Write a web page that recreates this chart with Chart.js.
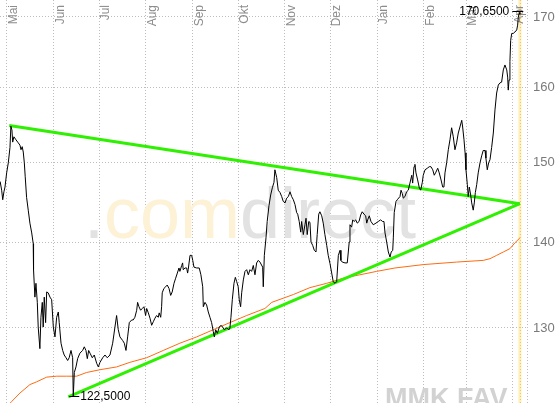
<!DOCTYPE html>
<html>
<head>
<meta charset="utf-8">
<script src="https://cdn.jsdelivr.net/npm/chart.js@4.4.1/dist/chart.umd.min.js"></script>
<style>
html, body { margin: 0; padding: 0; background: #fff; }
#wrap { width: 560px; height: 403px; }
</style>
</head>
<body>
<div id="wrap"><canvas id="chart" width="560" height="403"></canvas></div>
<script>
// x values are days counted from 1 May
const monthLabels = ["Mai", "Jun", "Jul", "Aug", "Sep", "Okt", "Nov", "Dez", "Jan", "Feb", "Mär", "Apr"];
const monthDays = [0, 31, 61, 92, 123, 153, 184, 214, 245, 276, 304, 335];
const yTicks = [130, 140, 150, 160, 170];

const priceDays = [
    -4.5, -3.5, -2.8, -2.0, -1.3, -0.2, 0.9, 2.0, 2.6, 3.3, 3.8, 4.6, 6.0, 7.5, 8.6, 9.3, 10.1, 10.8, 11.5, 12.1,
    13.0, 14.1, 15.2, 16.4, 17.4, 17.6, 18.5, 19.2, 20.1, 20.7, 21.8, 22.5, 23.4, 24.0, 24.7, 25.6, 26.3, 27.3, 28.5, 29.6,
    30.7, 31.8, 32.9, 34.0, 34.6, 35.8, 36.9, 37.9, 39.1, 40.2, 41.2, 42.4, 43.5, 43.9, 44.6, 45.7, 46.8, 48.3, 50.1, 51.2,
    52.3, 53.2, 54.1, 55.0, 56.5, 57.8, 59.4, 60.5, 61.6, 63.4, 64.9, 66.4, 68.2, 70.0, 71.5, 72.6, 73.7, 74.8, 76.6, 77.7,
    78.8, 79.9, 81.0, 82.6, 83.6, 84.7, 85.9, 86.5, 87.4, 88.5, 89.6, 90.7, 91.8, 92.5, 93.6, 94.7, 95.8, 96.9, 98.0, 99.1,
    100.2, 100.8, 101.8, 102.4, 102.8, 103.9, 105.1, 106.1, 107.3, 108.4, 109.4, 110.6, 111.7, 112.8, 113.9, 114.5, 115.7, 116.3, 116.7, 117.9,
    119.0, 119.6, 120.0, 121.2, 122.3, 123.0, 123.8, 125.6, 127.3, 128.4, 129.6, 130.0, 131.1, 132.2, 133.3, 134.4, 135.5, 136.6, 137.3, 138.2,
    139.3, 140.6, 141.7, 142.8, 143.9, 145.5, 147.0, 147.6, 148.3, 149.2, 150.3, 151.2, 152.1, 153.1, 153.8, 154.7, 155.4, 156.5, 157.6, 158.7,
    159.8, 160.9, 162.0, 163.1, 164.2, 165.3, 166.4, 167.5, 169.3, 169.7, 170.4, 171.5, 172.3, 173.5, 174.6, 175.7, 176.8, 177.4, 178.6, 179.6,
    180.8, 181.9, 182.9, 184.1, 185.2, 186.3, 187.4, 188.5, 189.6, 190.7, 191.8, 192.5, 193.5, 194.5, 195.1, 196.2, 197.3, 198.0, 198.8, 199.8,
    200.6, 201.3, 202.4, 203.5, 204.6, 205.4, 206.4, 207.2, 208.4, 209.4, 210.5, 211.7, 212.7, 213.9, 215.0, 216.0, 217.2, 218.3, 219.4, 220.5,
    221.1, 222.0, 223.8, 225.3, 226.0, 226.6, 227.1, 228.2, 228.9, 229.8, 230.9, 231.9, 233.1, 234.2, 235.2, 236.4, 237.5, 238.2, 238.8, 239.9,
    241.0, 242.5, 244.3, 245.8, 247.4, 248.7, 249.6, 250.3, 251.4, 252.5, 253.6, 254.4, 255.4, 255.8, 256.4, 257.6, 258.4, 260.2, 260.9, 261.7,
    262.4, 263.5, 264.6, 265.7, 266.8, 268.0, 268.6, 269.5, 270.1, 270.8, 271.9, 273.0, 273.9, 275.0, 275.6, 276.8, 278.3, 279.6, 280.7, 281.9,
    282.9, 284.0, 285.2, 286.2, 287.4, 288.5, 289.3, 290.0, 291.1, 292.2, 293.3, 294.4, 295.5, 296.6, 297.7, 298.8, 299.9, 301.1, 301.7, 302.6,
    303.3, 303.9, 304.8, 305.4, 306.1, 307.0, 307.7, 308.7, 309.4, 310.1, 311.0, 312.0, 313.2, 314.3, 315.3, 316.5, 317.1, 318.0, 318.9, 319.8,
    320.9, 322.0, 323.1, 324.2, 325.3, 326.4, 327.5, 328.6, 329.7, 330.9, 331.5, 331.9, 332.4, 333.0, 333.5, 334.2, 335.2, 336.3, 337.5, 338.1,
    338.5, 339.2, 339.6
];
const priceValues = [
    147.5, 146.4, 145.2, 146.2, 146.8, 148.6, 149.9, 151.9, 154.7, 154.2, 152.6, 153.3, 152.9, 152.5, 152.2, 151.6, 152.0, 151.3, 149.9, 148.1,
    145.5, 143.9, 142.3, 141.1, 139.8, 136.7, 133.5, 135.1, 132.9, 130.1, 127.7, 131.2, 132.9, 130.1, 133.5, 130.6, 134.1, 134.0, 133.5, 133.2,
    130.1, 129.0, 131.2, 131.8, 130.6, 128.3, 127.5, 127.0, 126.7, 126.4, 126.7, 127.5, 126.7, 122.5, 125.1, 125.7, 126.6, 127.2, 127.5, 127.9,
    127.5, 126.6, 127.5, 127.2, 126.7, 127.0, 126.1, 125.7, 126.2, 126.7, 127.0, 126.7, 127.0, 128.3, 130.1, 131.4, 129.8, 129.0, 128.6, 128.3,
    127.5, 129.0, 130.6, 130.9, 130.9, 131.2, 132.0, 132.9, 132.4, 132.0, 132.2, 132.4, 131.4, 132.2, 131.7, 131.1, 130.3, 130.7, 131.1, 131.4,
    131.2, 131.7, 131.2, 132.4, 134.0, 134.5, 134.7, 134.9, 134.5, 133.7, 134.1, 135.1, 135.7, 136.3, 136.9, 136.5, 137.2, 137.5, 136.7, 136.9,
    136.9, 136.3, 136.7, 138.4, 138.4, 137.8, 137.0, 136.9, 136.9, 136.1, 134.7, 132.4, 132.9, 132.6, 131.8, 131.2, 130.6, 129.6, 129.0, 129.8,
    129.4, 130.1, 130.3, 130.1, 129.8, 130.0, 129.8, 130.0, 131.2, 133.2, 135.1, 135.8, 135.3, 134.7, 133.2, 132.4, 134.0, 135.5, 136.5, 136.7,
    136.1, 136.7, 136.5, 137.2, 136.1, 137.5, 137.8, 137.6, 137.0, 134.7, 138.4, 140.5, 142.5, 144.5, 145.8, 146.7, 147.4, 149.0, 148.0, 146.4,
    146.1, 145.6, 145.0, 144.8, 145.4, 145.6, 146.2, 145.6, 145.2, 144.6, 143.6, 143.4, 142.5, 141.2, 142.5, 140.9, 142.1, 142.9, 140.9, 142.5,
    142.4, 140.0, 139.6, 139.0, 138.8, 140.9, 143.4, 143.7, 143.2, 142.3, 140.9, 139.6, 138.4, 137.4, 136.3, 135.3, 135.1, 135.3, 138.4, 139.0,
    137.8, 137.6, 137.5, 137.5, 138.8, 140.0, 142.1, 141.8, 142.7, 142.5, 142.7, 142.3, 142.5, 143.3, 143.7, 143.4, 143.2, 142.3, 142.7, 143.2,
    142.5, 142.1, 142.3, 142.5, 142.7, 142.5, 142.5, 141.1, 140.0, 138.8, 138.2, 138.8, 139.0, 140.5, 143.6, 145.0, 145.2, 145.6, 146.4, 146.0,
    145.4, 145.6, 146.2, 146.4, 147.3, 148.3, 147.3, 149.4, 149.7, 148.6, 147.7, 146.7, 146.4, 147.4, 148.3, 149.0, 149.2, 149.4, 149.4, 149.0,
    148.3, 148.7, 149.2, 148.6, 147.7, 146.8, 146.8, 148.6, 149.9, 151.6, 152.9, 154.5, 153.3, 151.6, 152.5, 153.8, 154.6, 155.5, 154.6, 152.9,
    151.2, 149.0, 147.1, 145.6, 146.8, 145.8, 144.8, 143.9, 144.8, 146.1, 147.1, 148.6, 149.9, 150.8, 151.5, 151.5, 150.5, 149.0, 149.9, 150.3,
    151.9, 153.8, 156.9, 159.2, 160.3, 160.6, 160.7, 162.4, 163.1, 162.4, 161.4, 159.6, 161.0, 163.6, 166.6, 167.6, 167.6, 167.8, 168.1, 168.8,
    169.9, 170.65, 170.4
];

const maDays = [0.7, 3.1, 8.6, 15.2, 19.7, 26.3, 32.9, 39.5, 46.1, 52.8, 61.6, 72.6, 81.4, 92.5, 103.5, 114.5, 125.6, 136.6, 147.6,
    158.7, 170.8, 175.3, 189.6, 200.6, 211.7, 222.7, 233.7, 244.8, 256.9, 275.6, 297.7, 315.3, 319.8, 324.2, 328.6, 333.0, 336.3, 339.6];
const maValues = [121.6, 122.0, 122.9, 123.8, 124.1, 124.6, 124.7, 124.7, 124.7, 125.1, 125.4, 125.7, 126.2, 126.7, 127.5, 128.3, 129.0, 129.8, 130.6,
    131.4, 132.2, 132.9, 133.8, 134.6, 135.1, 135.7, 136.1, 136.5, 136.9, 137.3, 137.6, 137.8, 138.0, 138.4, 138.8, 139.2, 139.9, 140.5];

// triangle trend lines
const upperDays = [1.5, 339.6];
const upperValues = [154.8, 144.7];
const lowerDays = [40.6, 339.6];
const lowerValues = [122.5, 144.7];

function pairs(xs, ys) {
    return xs.map((x, i) => ({ x: x, y: ys[i] }));
}

function fmt(v) {
    return v.toFixed(4).replace(".", ",");
}

const overlay = {
    id: "overlay",
    beforeDatasetsDraw(chart) {
        const ctx = chart.ctx;
        const a = chart.chartArea;
        const x = chart.scales.x;
        ctx.save();

        // watermark
        ctx.font = '72px "Liberation Sans", Arial, sans-serif';
        ctx.textBaseline = "alphabetic";
        let wx = 84;
        [[".", "#e2e2e2"], ["com", "#fdf1d6"], ["direct", "#e2e2e2"]].forEach(function (p) {
            ctx.fillStyle = p[1];
            ctx.fillText(p[0], wx, 238);
            wx += ctx.measureText(p[0]).width;
        });
        ctx.font = 'bold 27px "Liberation Sans", Arial, sans-serif';
        ctx.fillStyle = "#d2d2d2";
        ctx.fillText("MMK FAV", 385, 407);

        // current day band
        const tx = x.getPixelForValue(priceDays[priceDays.length - 1]);
        ctx.fillStyle = "rgba(255, 225, 90, 0.45)";
        ctx.fillRect(tx - 1.5, a.top, 3, a.bottom - a.top);
        ctx.strokeStyle = "#f2b880";
        ctx.lineWidth = 1;
        ctx.setLineDash([1, 2]);
        ctx.beginPath();
        ctx.moveTo(tx + 0.5, a.top);
        ctx.lineTo(tx + 0.5, a.bottom);
        ctx.stroke();
        ctx.setLineDash([]);

        // month labels, rotated, inside the plot
        ctx.font = '12px "Liberation Sans", Arial, sans-serif';
        ctx.fillStyle = "#8c8c8c";
        ctx.textAlign = "right";
        monthDays.forEach(function (d, i) {
            const gx = x.getPixelForValue(d);
            ctx.save();
            ctx.translate(Math.round(gx) + 10, 5);
            ctx.rotate(-Math.PI / 2);
            ctx.fillText(monthLabels[i], 0, 0);
            ctx.restore();
        });
        ctx.restore();
    },
    afterDatasetsDraw(chart) {
        const ctx = chart.ctx;
        const x = chart.scales.x;
        const y = chart.scales.y;
        const hi = Math.max.apply(null, priceValues);
        const lo = Math.min.apply(null, priceValues);
        const hx = x.getPixelForValue(priceDays[priceValues.indexOf(hi)]);
        const hy = Math.round(y.getPixelForValue(hi)) - 1.5;
        const lx = x.getPixelForValue(priceDays[priceValues.indexOf(lo)]);
        const ly = Math.round(y.getPixelForValue(lo)) - 0.5;
        ctx.save();
        ctx.strokeStyle = "#000";
        ctx.lineWidth = 1;
        ctx.beginPath();
        ctx.moveTo(hx - 7, hy);
        ctx.lineTo(hx + 4, hy);
        ctx.moveTo(lx - 4, ly);
        ctx.lineTo(lx + 6, ly);
        ctx.stroke();
        ctx.font = '12px "Liberation Sans", Arial, sans-serif';
        ctx.fillStyle = "#000";
        ctx.textBaseline = "middle";
        ctx.textAlign = "right";
        ctx.fillText(fmt(hi), hx - 10, hy);
        ctx.textAlign = "left";
        ctx.fillText(fmt(lo), lx + 7, ly);
        ctx.restore();
    }
};

const gridColor = "#bdbdbd";

new Chart(document.getElementById("chart"), {
    type: "line",
    data: {
        datasets: [
            { data: pairs(priceDays, priceValues), borderColor: "#000", borderWidth: 1, pointRadius: 0 },
            { data: pairs(upperDays, upperValues), borderColor: "#2ef000", borderWidth: 3, pointRadius: 0 },
            { data: pairs(lowerDays, lowerValues), borderColor: "#2ef000", borderWidth: 3, pointRadius: 0 },
            { data: pairs(maDays, maValues), borderColor: "#ff6a10", borderWidth: 1, pointRadius: 0 }
        ]
    },
    options: {
        responsive: false,
        animation: false,
        devicePixelRatio: 1,
        layout: { padding: 0 },
        plugins: { legend: { display: false }, tooltip: { enabled: false } },
        elements: { line: { tension: 0 } },
        scales: {
            x: {
                type: "linear",
                min: -4.6,
                max: 344.3,
                afterBuildTicks: function (scale) {
                    scale.ticks = monthDays.concat([344.3]).map(v => ({ value: v }));
                },
                ticks: { display: false },
                grid: { color: gridColor, lineWidth: 1, drawTicks: false },
                border: { display: false, dash: [1, 2] }
            },
            y: {
                type: "logarithmic",
                position: "right",
                min: 121.85,
                max: 172.5,
                afterBuildTicks: function (scale) {
                    scale.ticks = yTicks.map(v => ({ value: v }));
                },
                afterFit: function (scale) {
                    scale.width = 33;
                    scale.paddingTop = 0;
                    scale.paddingBottom = 0;
                },
                ticks: {
                    padding: 6,
                    color: "#7a7a7a",
                    font: { family: '"Liberation Sans", Arial, sans-serif', size: 13 },
                    callback: v => String(v)
                },
                grid: { color: gridColor, lineWidth: 1, drawTicks: false },
                border: { display: false, dash: [1, 2] }
            }
        }
    },
    plugins: [overlay]
});
</script>
</body>
</html>
